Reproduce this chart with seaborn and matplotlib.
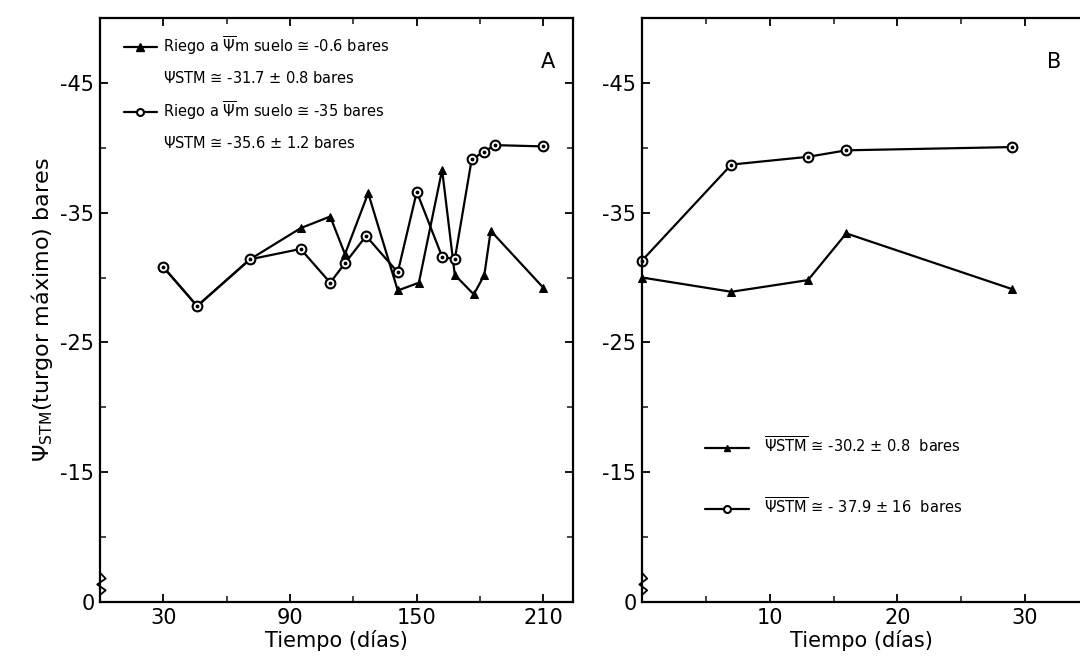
import numpy as np
import pandas as pd
import seaborn as sns
import matplotlib.pyplot as plt
from matplotlib.lines import Line2D

# ---------------- data ----------------
# Panel A
a_tri_dias = [30, 46, 71, 95, 109, 116, 127, 141, 151, 162, 168, 177, 182, 185, 210]
a_tri_psi = [-30.8, -27.8, -31.4, -33.8, -34.7, -31.8, -36.5, -29.0, -29.6, -38.3,
             -30.2, -28.7, -30.2, -33.6, -29.2]
a_cir_dias = [30, 46, 71, 95, 109, 116, 126, 141, 150, 162, 168, 176, 182, 187, 210]
a_cir_psi = [-30.8, -27.8, -31.4, -32.2, -29.6, -31.1, -33.2, -30.4, -36.6, -31.6,
             -31.4, -39.1, -39.7, -40.2, -40.1]
# Panel B
b_tri_dias = [0, 7, 13, 16, 29]
b_tri_psi = [-30.0, -28.9, -29.8, -33.4, -29.1]
b_cir_dias = [0, 7, 13, 16, 29]
b_cir_psi = [-31.3, -38.7, -39.3, -39.8, -40.05]

y_ticks = [-45, -35, -25, -15, -5]
y_tick_labels = ["-45", "-35", "-25", "-15", "0"]
y_minor = [-50, -40, -30, -20, -10]
a_xticks = [30, 90, 150, 210]
a_xminor = [60, 120, 180]
b_xticks = [10, 20, 30]
b_xminor = [5, 15, 25]

leg_a = [r"Riego a $\overline{\Psi}$m suelo ≅ -0.6 bares",
         r"$\Psi$STM ≅ -31.7 ± 0.8 bares",
         r"Riego a $\overline{\Psi}$m suelo ≅ -35 bares",
         r"$\Psi$STM ≅ -35.6 ± 1.2 bares"]
leg_b = [r"$\overline{\Psi\mathrm{STM}}$ ≅ -30.2 ± 0.8  bares",
         r"$\overline{\Psi\mathrm{STM}}$ ≅ - 37.9 ± 16  bares"]

# ---------------- style ----------------
sns.set_theme(style="ticks")
plt.rcParams['font.family'] = ['DejaVu Sans']
plt.rcParams['mathtext.fontset'] = 'dejavusans'
plt.rcParams['text.color'] = 'black'
plt.rcParams['axes.labelcolor'] = 'black'

fig = plt.figure(figsize=(10.8, 6.64), dpi=100)
axA = fig.add_axes([0.0926, 0.0934, 0.4380, 0.8796])
axB = fig.add_axes([0.5944, 0.0934, 0.4056, 0.8796])

tri_kw = dict(color='black', lw=1.6, marker='^', markersize=6,
              markerfacecolor='black', markeredgecolor='black')
cir_kw = dict(color='black', lw=1.6, marker='o', markersize=7,
              markerfacecolor='white', markeredgecolor='black', markeredgewidth=1.5)

def draw(ax, xt, yt, xc, yc):
    sns.lineplot(x=xt, y=yt, ax=ax, sort=False, estimator=None, clip_on=False, **tri_kw)
    sns.lineplot(x=xc, y=yc, ax=ax, sort=False, estimator=None, clip_on=False, **cir_kw)
    ax.scatter(xc, yc, s=3, color='black', zorder=5, clip_on=False)

draw(axA, a_tri_dias, a_tri_psi, a_cir_dias, a_cir_psi)
draw(axB, b_tri_dias, b_tri_psi, b_cir_dias, b_cir_psi)

axA.set_xlim(0, 224)
axB.set_xlim(0, 34.3)
for ax in (axA, axB):
    ax.set_ylim(-5, -50)
    ax.set_yticks(y_ticks)
    ax.set_yticklabels(y_tick_labels)
    ax.set_yticks(y_minor, minor=True)
    ax.tick_params(axis='both', which='major', direction='in', length=6, width=1.3,
                   labelsize=15, pad=4, colors='black')
    ax.tick_params(axis='both', which='minor', direction='in', length=4, width=1.2)
    for s in ax.spines.values():
        s.set_linewidth(1.6)
        s.set_color('black')
    ax.set_xlabel("Tiempo (días)", fontsize=15, labelpad=2)
    # axis break symbol
    ax.plot([0, 0.012, -0.006, 0.012, 0], [0.05, 0.04, 0.03, 0.02, 0.012],
            transform=ax.transAxes, color='black', lw=1.3, clip_on=False)

axA.set_xticks(a_xticks)
axA.set_xticks(a_xminor, minor=True)
axA.tick_params(axis='both', which='both', right=True, top=True)
axB.set_xticks(b_xticks)
axB.set_xticks(b_xminor, minor=True)
axB.spines['right'].set_visible(False)
axB.tick_params(axis='x', which='both', top=True)

axA.set_ylabel(r"$\Psi_{\mathrm{STM}}$(turgor máximo) bares", fontsize=16, labelpad=4)
axB.set_ylabel("")

axA.text(0.948, 0.925, "A", transform=axA.transAxes, fontsize=15, ha='center', va='center')
axB.text(0.94, 0.925, "B", transform=axB.transAxes, fontsize=15, ha='center', va='center')

# legends
hA = [Line2D([], [], **tri_kw), Line2D([], [], lw=0, marker=None),
      Line2D([], [], **{**cir_kw, 'markersize': 5}), Line2D([], [], lw=0, marker=None)]
lgA = axA.legend(hA, leg_a, loc='upper left', bbox_to_anchor=(0.05, 0.972), frameon=False,
                 fontsize=10.5, handlelength=2.3, handletextpad=0.4, labelspacing=0.9,
                 borderaxespad=0, borderpad=0)

hB = [Line2D([], [], **{**tri_kw, 'markersize': 5}), Line2D([], [], **{**cir_kw, 'markersize': 5})]
lgB = axB.legend(hB, leg_b, loc='upper left', bbox_to_anchor=(0.145, 0.285), frameon=False,
                 fontsize=10.5, handlelength=3.0, handletextpad=1.0, labelspacing=2.8,
                 borderaxespad=0, borderpad=0)

fig.savefig("out.png", dpi=100)
